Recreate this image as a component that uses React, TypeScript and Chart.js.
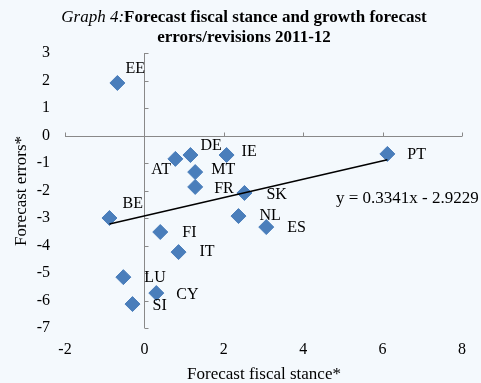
import React, { useEffect, useRef } from "react";
import { Chart, registerables } from "chart.js";

Chart.register(...registerables);

// ---- data ----
const countries = ["EE", "AT", "DE", "IE", "MT", "FR", "SK", "NL", "ES", "PT", "BE", "FI", "IT", "LU", "CY", "SI"];
const fiscalStance = [-0.68, 0.78, 1.16, 2.07, 1.28, 1.28, 2.52, 2.37, 3.07, 6.12, -0.88, 0.4, 0.86, -0.53, 0.3, -0.3];
const forecastErrors = [1.91, -0.85, -0.71, -0.71, -1.33, -1.87, -2.09, -2.93, -3.33, -0.67, -3.0, -3.51, -4.24, -5.15, -5.73, -6.13];
const xTicks = [-2, 0, 2, 4, 6, 8];
const yTicks = [3, 2, 1, 0, -1, -2, -3, -4, -5, -6, -7];
const trendSlope = 0.3341;
const trendIntercept = -2.9229;
const equationText = "y = 0.3341x - 2.9229";
const titleItalic = "Graph 4:";
const titleLine1 = "Forecast fiscal stance and growth forecast";
const titleLine2 = "errors/revisions 2011-12";
const xTitle = "Forecast fiscal stance*";
const yTitle = "Forecast errors*";

// ---- label placement (layout only) ----
const labelOffset: Record<string, [number, number]> = {
  EE: [8, -14], AT: [-24, 11], DE: [10, -9], IE: [15, -3], MT: [16, -2], FR: [19, 2],
  SK: [22, 2], NL: [21, 0], ES: [21, 1], PT: [20, 1], BE: [13, -14], FI: [22, 1],
  IT: [21, 0], LU: [21, 1], CY: [20, 2], SI: [20, 2],
};

const FONT = '"Liberation Serif", "Times New Roman", serif';
const BG = "#F4F9FD";
const AXIS = "#898989";
const MARK = "#4A7EBB";

const decorPlugin = {
  id: "decor",
  beforeDraw(chart: any) {
    const ctx = chart.ctx;
    ctx.save();
    ctx.fillStyle = BG;
    ctx.fillRect(0, 0, chart.width, chart.height);
    ctx.restore();
  },
  beforeDatasetsDraw(chart: any) {
    const ctx = chart.ctx;
    const xs = chart.scales.x;
    const ys = chart.scales.y;
    const ca = chart.chartArea;
    const y0 = Math.round(ys.getPixelForValue(0)) + 0.5;
    const x0 = Math.round(xs.getPixelForValue(0)) + 0.5;
    ctx.save();
    ctx.strokeStyle = AXIS;
    ctx.lineWidth = 1;
    ctx.beginPath();
    ctx.moveTo(ca.left, y0);
    ctx.lineTo(ca.right, y0);
    for (const t of xTicks) {
      const px = Math.round(xs.getPixelForValue(t)) + 0.5;
      ctx.moveTo(px, y0);
      ctx.lineTo(px, y0 - 4);
    }
    ctx.moveTo(x0, ca.top);
    ctx.lineTo(x0, ca.bottom);
    for (const t of yTicks) {
      const py = Math.round(ys.getPixelForValue(t)) + 0.5;
      ctx.moveTo(x0, py);
      ctx.lineTo(x0 + 4, py);
    }
    ctx.stroke();

    ctx.fillStyle = "#000";
    ctx.font = `16px ${FONT}`;
    ctx.textBaseline = "middle";
    ctx.textAlign = "center";
    for (const t of xTicks) {
      ctx.fillText(String(t), xs.getPixelForValue(t), ca.bottom + 22);
    }
    ctx.textAlign = "right";
    for (const t of yTicks) {
      ctx.fillText(String(t), ca.left - 15, ys.getPixelForValue(t));
    }
    ctx.font = `17px ${FONT}`;
    ctx.textAlign = "center";
    ctx.fillText(xTitle, 264, ca.bottom + 47);
    ctx.save();
    ctx.translate(22, 191);
    ctx.rotate(-Math.PI / 2);
    ctx.fillText(yTitle, 0, 0);
    ctx.restore();
    ctx.restore();
  },
  afterDatasetsDraw(chart: any) {
    const ctx = chart.ctx;
    const xs = chart.scales.x;
    const ys = chart.scales.y;
    ctx.save();
    ctx.fillStyle = "#000";
    ctx.font = `16px ${FONT}`;
    ctx.textBaseline = "middle";
    ctx.textAlign = "left";
    countries.forEach((c, i) => {
      const [dx, dy] = labelOffset[c] || [10, 0];
      ctx.fillText(c, xs.getPixelForValue(fiscalStance[i]) + dx, ys.getPixelForValue(forecastErrors[i]) + dy);
    });
    ctx.font = `17px ${FONT}`;
    ctx.fillText(equationText, 336, 199);

    // title
    ctx.textBaseline = "alphabetic";
    ctx.font = `italic 17px ${FONT}`;
    const wI = ctx.measureText(titleItalic).width;
    ctx.font = `bold 17px ${FONT}`;
    const wB = ctx.measureText(titleLine1).width;
    const cx = 244;
    const start = cx - (wI + wB) / 2;
    ctx.font = `italic 17px ${FONT}`;
    ctx.fillText(titleItalic, start, 22);
    ctx.font = `bold 17px ${FONT}`;
    ctx.fillText(titleLine1, start + wI, 22);
    ctx.textAlign = "center";
    ctx.fillText(titleLine2, cx, 42);
    ctx.restore();
  },
};

export default function App() {
  const ref = useRef<HTMLCanvasElement | null>(null);
  useEffect(() => {
    document.body.style.margin = "0";
    const canvas = ref.current;
    if (!canvas) return;
    const minX = Math.min(...fiscalStance);
    const maxX = Math.max(...fiscalStance);
    const chart = new Chart(canvas, {
      type: "scatter",
      data: {
        datasets: [
          {
            type: "line",
            label: "Trend",
            data: [
              { x: minX, y: trendSlope * minX + trendIntercept },
              { x: maxX, y: trendSlope * maxX + trendIntercept },
            ],
            borderColor: "#000",
            borderWidth: 1.5,
            pointRadius: 0,
            fill: false,
            order: 0,
          } as any,
          {
            label: "Countries",
            data: fiscalStance.map((x, i) => ({ x, y: forecastErrors[i] })),
            pointStyle: "rectRot",
            pointRadius: 7.5,
            pointHoverRadius: 7.5,
            backgroundColor: MARK,
            borderColor: MARK,
            borderWidth: 1,
            order: 1,
          },
        ],
      },
      options: {
        animation: false,
        responsive: false,
        devicePixelRatio: 1,
        layout: { padding: { left: 65, right: 19, top: 53, bottom: 55 } },
        scales: {
          x: { type: "linear", min: -2, max: 8, display: false },
          y: { type: "linear", min: -7, max: 3, display: false },
        },
        plugins: { legend: { display: false }, tooltip: { enabled: false }, title: { display: false } },
        events: [],
      },
      plugins: [decorPlugin],
    });
    return () => chart.destroy();
  }, []);
  return <canvas ref={ref} width={481} height={383} style={{ display: "block" }} />;
}
